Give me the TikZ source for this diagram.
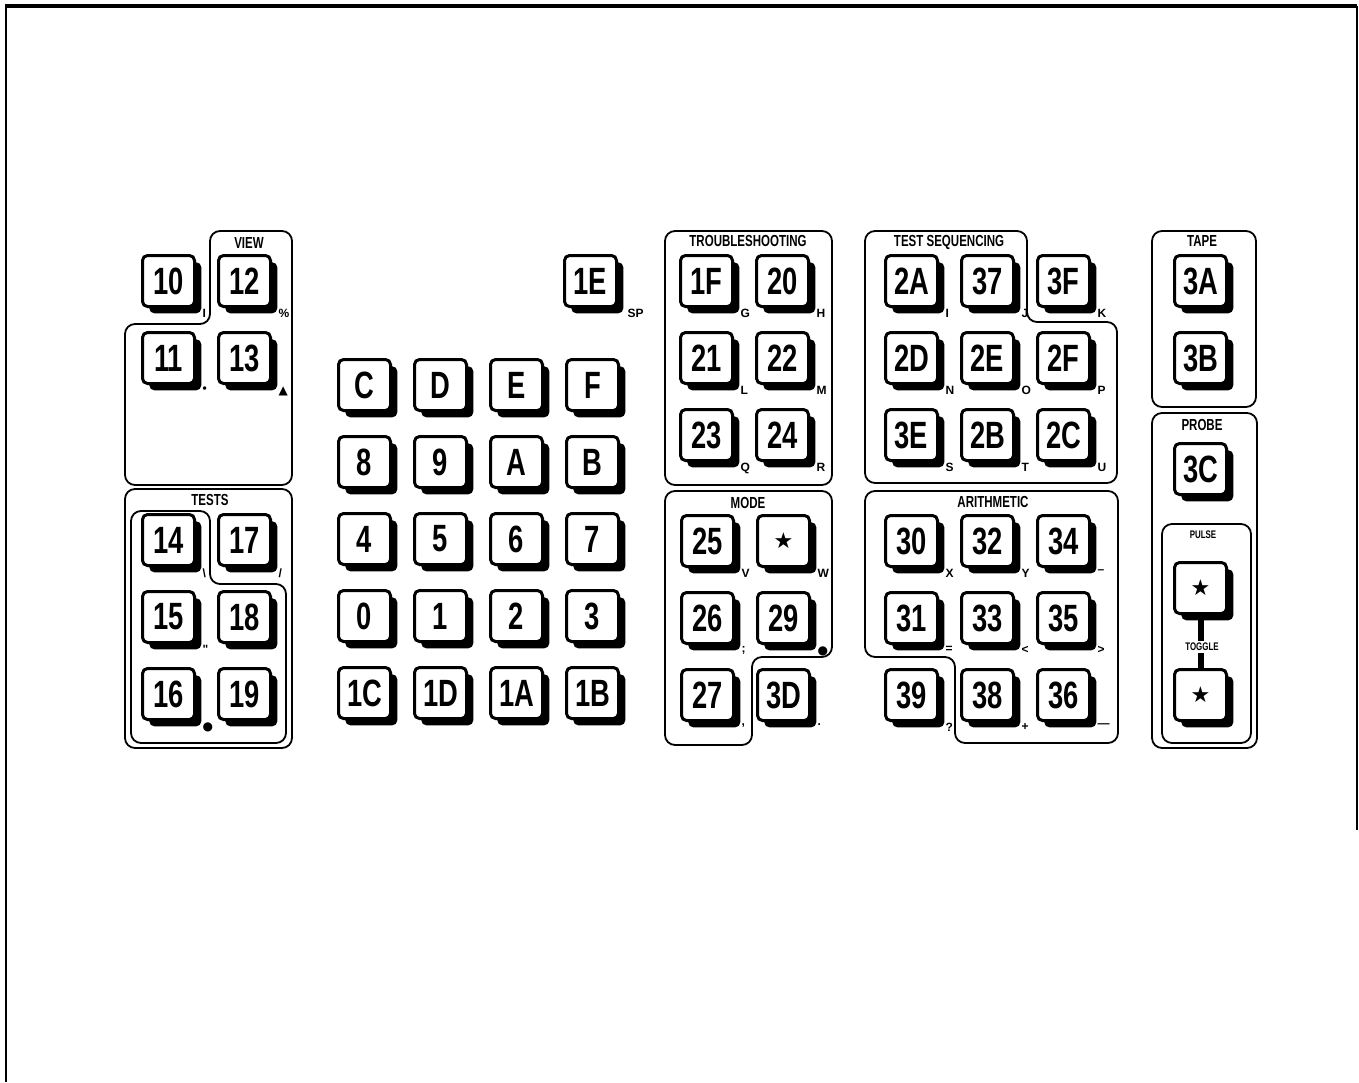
\documentclass[tikz,border=0pt]{standalone}
\usepackage{fontspec}
\setmainfont{Liberation Sans}
\newfontfamily\keyfont[FakeStretch=0.72]{Liberation Sans}
\newfontfamily\symfont{DejaVu Sans}
\usetikzlibrary{positioning,shadows}

\begin{document}
\begin{tikzpicture}[x=0.5pt, y=-0.5pt,
      node distance=11.5pt and 10.5pt,
      kbkey/.style={draw, line width=1.5pt, fill=white, rounded corners=2.5pt,
                    minimum width=26pt, minimum height=25.5pt, inner sep=0pt,
                    font=\keyfont\bfseries\fontsize{19}{19}\selectfont,
                    drop shadow={shadow xshift=3.4pt, shadow yshift=-3.4pt,
                                 opacity=1, fill=black},
                    label distance=0pt},
      subl/.style={font=\bfseries\fontsize{6}{6}\selectfont,
                   inner sep=0.6pt, xshift=2.8pt},
      ttl/.style={font=\keyfont\bfseries\fontsize{8}{8}\selectfont,
                  inner sep=1pt},
      tiny/.style={font=\keyfont\bfseries\fontsize{5.5}{5.5}\selectfont,
                   inner sep=1pt},
      panel/.style={line width=0.9pt, rounded corners=5pt},
      bar/.style={line width=3pt}
    ]
    \useasboundingbox (0,0) rectangle (1359,1082);
    % frame
    \draw[line width=1.2pt] (6,1082) -- (6,6);
    \draw[line width=1.6pt] (5,6) -- (1357,6);
    \draw[line width=0.6pt] (1357,6) -- (1357,830);

    % panels
    \draw[panel] (210,231) -- (292,231) -- (292,485) -- (125,485)
      -- (125,324) -- (210,324) -- cycle;
    \draw[panel] (125,489) rectangle (292,748);
    \draw[panel] (131,511) -- (210,511) -- (210,584) -- (286,584)
      -- (286,743) -- (131,743) -- cycle;
    \draw[panel] (665,231) rectangle (832,485);
    \draw[panel] (665,491) -- (832,491) -- (832,657) -- (752,657)
      -- (752,745) -- (665,745) -- cycle;
    \draw[panel] (865,231) -- (1027,231) -- (1027,322) -- (1117,322)
      -- (1117,483) -- (865,483) -- cycle;
    \draw[panel] (865,491) -- (1118,491) -- (1118,743) -- (955,743)
      -- (955,657) -- (865,657) -- cycle;
    \draw[panel] (1152,231) rectangle (1256,407);
    \draw[panel] (1152,413) rectangle (1257,748);
    \draw[panel] (1162,524) rectangle (1251,743);

    % view
    \node[kbkey, anchor=north west, label={[subl]-45:I}] (k10) at (141,254) {10};
    \node[kbkey, right=of k10, label={[subl]-45:\%}] (k12) {12};
    \node[kbkey, below=of k10, label={[subl]-45:•}] (k11) {11};
    \node[kbkey, below=of k12, label={[subl]-45:{\symfont ▲}}] (k13) {13};

    % tests
    \node[kbkey, anchor=north west, label={[subl]-45:\textbackslash}] (k14) at (141,513) {14};
    \node[kbkey, right=of k14, label={[subl]-45:/}] (k17) {17};
    \node[kbkey, below=of k14, label={[subl]-45:\textquotedbl}] (k15) {15};
    \node[kbkey, below=of k17] (k18) {18};
    \node[kbkey, below=of k15, label={[subl]-45:{\symfont ●}}] (k16) {16};
    \node[kbkey, below=of k18] (k19) {19};

    % hex pad
    \node[kbkey, anchor=north west, label={[subl, xshift=1.5pt]-45:SP}] (k1E) at (563,254) {1E};
    \node[kbkey, anchor=north west] (kC) at (337,358) {C};
    \node[kbkey, right=of kC] (kD) {D};
    \node[kbkey, right=of kD] (kE) {E};
    \node[kbkey, right=of kE] (kF) {F};
    \node[kbkey, below=of kC] (k8) {8};
    \node[kbkey, right=of k8] (k9) {9};
    \node[kbkey, right=of k9] (kA) {A};
    \node[kbkey, right=of kA] (kB) {B};
    \node[kbkey, below=of k8] (k4) {4};
    \node[kbkey, right=of k4] (k5) {5};
    \node[kbkey, right=of k5] (k6) {6};
    \node[kbkey, right=of k6] (k7) {7};
    \node[kbkey, below=of k4] (k0) {0};
    \node[kbkey, right=of k0] (k1) {1};
    \node[kbkey, right=of k1] (k2) {2};
    \node[kbkey, right=of k2] (k3) {3};
    \node[kbkey, below=of k0] (k1C) {1C};
    \node[kbkey, right=of k1C] (k1D) {1D};
    \node[kbkey, right=of k1D] (k1A) {1A};
    \node[kbkey, right=of k1A] (k1B) {1B};

    % troubleshooting
    \node[kbkey, anchor=north west, label={[subl]-45:G}] (k1F) at (679,254) {1F};
    \node[kbkey, right=of k1F, label={[subl]-45:H}] (k20) {20};
    \node[kbkey, below=of k1F, label={[subl]-45:L}] (k21) {21};
    \node[kbkey, right=of k21, label={[subl]-45:M}] (k22) {22};
    \node[kbkey, below=of k21, label={[subl]-45:Q}] (k23) {23};
    \node[kbkey, right=of k23, label={[subl]-45:R}] (k24) {24};

    % mode
    \node[kbkey, anchor=north west, label={[subl]-45:V}] (k25) at (680,514) {25};
    \node[kbkey, right=of k25, label={[subl]-45:W}] (kW)
      {\symfont\fontsize{11}{11}\selectfont ★};
    \node[kbkey, below=of k25, label={[subl]-45:{;}}] (k26) {26};
    \node[kbkey, right=of k26, label={[subl]-45:{\symfont ●}}] (k29) {29};
    \node[kbkey, below=of k26, label={[subl]-45:{,}}] (k27) {27};
    \node[kbkey, right=of k27, label={[subl]-45:.}] (k3D) {3D};

    % test sequencing
    \node[kbkey, anchor=north west, label={[subl]-45:I}] (k2A) at (884,254) {2A};
    \node[kbkey, right=of k2A, label={[subl]-45:J}] (k37) {37};
    \node[kbkey, right=of k37, label={[subl]-45:K}] (k3F) {3F};
    \node[kbkey, below=of k2A, label={[subl]-45:N}] (k2D) {2D};
    \node[kbkey, right=of k2D, label={[subl]-45:O}] (k2E) {2E};
    \node[kbkey, right=of k2E, label={[subl]-45:P}] (k2F) {2F};
    \node[kbkey, below=of k2D, label={[subl]-45:S}] (k3E) {3E};
    \node[kbkey, right=of k3E, label={[subl]-45:T}] (k2B) {2B};
    \node[kbkey, right=of k2B, label={[subl]-45:U}] (k2C) {2C};

    % arithmetic
    \node[kbkey, anchor=north west, label={[subl]-45:X}] (k30) at (884,514) {30};
    \node[kbkey, right=of k30, label={[subl]-45:Y}] (k32) {32};
    \node[kbkey, right=of k32, label={[subl]-45:–}] (k34) {34};
    \node[kbkey, below=of k30, label={[subl]-45:{=}}] (k31) {31};
    \node[kbkey, right=of k31, label={[subl]-45:<}] (k33) {33};
    \node[kbkey, right=of k33, label={[subl]-45:>}] (k35) {35};
    \node[kbkey, below=of k31, label={[subl]-45:?}] (k39) {39};
    \node[kbkey, right=of k39, label={[subl]-45:+}] (k38) {38};
    \node[kbkey, right=of k38, label={[subl]-45:—}] (k36) {36};

    % tape, probe
    \node[kbkey, anchor=north west] (k3A) at (1173,254) {3A};
    \node[kbkey, below=of k3A] (k3B) {3B};
    \node[kbkey, anchor=north west] (k3C) at (1173,442) {3C};
    \node[kbkey, anchor=north west] (kPulse) at (1173,561)
      {\symfont\fontsize{11}{11}\selectfont ★};
    \node[kbkey, anchor=north west] (kToggle) at (1173,668)
      {\symfont\fontsize{11}{11}\selectfont ★};
    \draw[bar] (kPulse.south) -- (kToggle.north);

    % titles
    \node[ttl] (tView) at (249,243) {VIEW};
    \node[ttl, fill=white] (tTests) at (210,500) {TESTS};
    \node[ttl] (tTrouble) at (748,241) {TROUBLESHOOTING};
    \node[ttl] (tMode) at (748,503) {MODE};
    \node[ttl] (tSeq) at (949,242) {TEST SEQUENCING};
    \node[ttl] (tArith) at (993,502) {ARITHMETIC};
    \node[ttl] (tTape) at (1202,241) {TAPE};
    \node[ttl] (tProbe) at (1202,425) {PROBE};
    \node[tiny] (tPulse) at (1203,535) {PULSE};
    \node[tiny, fill=white] (tToggle) at (1202,647) {TOGGLE};
  \end{tikzpicture}
\end{document}
